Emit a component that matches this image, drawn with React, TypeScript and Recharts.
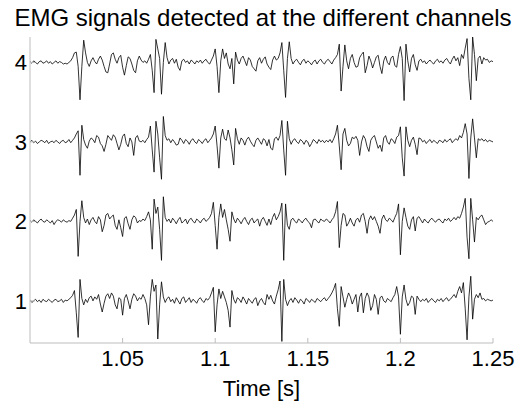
import React from 'react';
import {LineChart, Line, XAxis, YAxis} from 'recharts';

// EMG amplitude per channel, one sample every 1 ms starting at 1.000 s
const START_TIME = 1.0;
const SAMPLE_STEP = 0.001;

const ch4 = [
    0.01, -0.01, 0.02, 0.00, -0.02, 0.01, 0.02, -0.01, 0.00, 0.02,
    -0.01, 0.01, -0.02, 0.00, 0.02, -0.01, 0.01, 0.00, -0.02, -0.01,
    -0.02, 0.00, 0.02, 0.06, 0.12, 0.13, -0.05, -0.47, -0.05, 0.28,
    0.12, 0.00, -0.05, 0.02, 0.06, 0.01, -0.02, 0.04, 0.08, 0.03,
    -0.05, -0.12, -0.13, -0.02, 0.10, 0.12, 0.04, -0.01, 0.06, 0.09,
    -0.06, -0.16, -0.04, 0.07, 0.05, -0.02, -0.10, -0.13, 0.02, 0.08,
    0.03, 0.00, 0.02, -0.01, 0.04, 0.10, -0.10, -0.38, 0.29, 0.17,
    0.05, -0.40, 0.00, 0.25, 0.06, -0.02, 0.03, 0.05, -0.01, 0.04,
    -0.06, -0.10, 0.02, 0.04, 0.00, 0.02, -0.02, 0.03, 0.01, -0.02,
    0.02, 0.00, 0.03, -0.01, 0.02, 0.04, 0.00, -0.02, 0.03, 0.08,
    0.17, -0.05, -0.38, 0.02, 0.17, 0.05, 0.12, -0.02, -0.08, 0.05,
    -0.27, 0.13, 0.03, -0.02, 0.05, 0.08, 0.02, -0.04, 0.06, 0.03,
    -0.05, -0.08, -0.11, 0.02, 0.06, -0.01, 0.04, 0.07, -0.02, -0.06,
    -0.09, 0.03, 0.08, 0.03, 0.05, 0.12, 0.25, -0.10, -0.44, 0.05,
    0.26, 0.05, -0.02, 0.02, 0.04, 0.00, -0.03, 0.02, 0.04, -0.01,
    0.02, 0.00, -0.03, 0.01, 0.03, -0.02, 0.02, 0.04, 0.00, -0.02,
    0.02, 0.04, 0.01, -0.02, 0.03, 0.06, 0.10, 0.23, -0.36, -0.05,
    0.22, 0.02, -0.08, 0.05, 0.10, 0.00, -0.06, -0.05, 0.06, 0.10,
    0.13, -0.13, -0.04, 0.08, 0.02, -0.07, 0.00, 0.07, 0.09, -0.05,
    -0.14, 0.02, 0.08, 0.00, -0.03, 0.06, 0.08, -0.04, -0.06, 0.10,
    0.20, 0.05, -0.48, 0.23, 0.02, -0.12, 0.05, 0.10, -0.03, -0.10,
    0.02, 0.04, 0.00, 0.02, -0.02, 0.01, 0.03, 0.00, -0.02, 0.02,
    0.04, 0.00, 0.02, -0.01, 0.03, 0.05, 0.01, -0.02, 0.04, 0.08,
    0.02, 0.06, -0.04, 0.10, 0.05, 0.18, 0.30, -0.20, -0.47, 0.32,
    0.10, -0.23, 0.05, 0.08, -0.02, 0.06, 0.03, 0.04, 0.00, 0.02, 0.01,
];

const ch3 = [
    0.00, 0.02, -0.01, 0.01, -0.02, 0.00, 0.02, 0.01, -0.01, 0.02,
    -0.02, 0.00, 0.01, -0.01, 0.02, 0.00, -0.02, 0.01, 0.02, -0.01,
    0.00, 0.03, -0.01, 0.02, 0.05, 0.10, 0.14, -0.42, 0.21, 0.03,
    -0.04, -0.08, 0.01, 0.05, 0.03, -0.01, 0.08, 0.06, -0.02, -0.05,
    -0.12, -0.03, 0.08, 0.05, 0.02, 0.09, 0.06, -0.02, -0.10, -0.03,
    0.07, 0.10, -0.02, -0.06, 0.05, 0.00, -0.17, 0.05, 0.08, 0.01,
    0.00, 0.02, -0.01, 0.03, 0.06, 0.20, -0.10, -0.38, 0.26, 0.10,
    -0.20, -0.47, 0.32, 0.08, 0.02, 0.04, -0.01, 0.03, 0.00, -0.04,
    -0.03, 0.05, 0.02, -0.02, 0.03, 0.01, -0.03, 0.02, 0.04, 0.00,
    -0.02, 0.03, 0.01, -0.02, 0.02, 0.04, -0.01, 0.02, 0.05, 0.10,
    0.20, -0.05, -0.33, 0.05, 0.16, 0.04, 0.02, 0.15, 0.05, -0.10,
    -0.29, 0.17, 0.04, -0.03, 0.05, 0.02, -0.04, 0.03, 0.06, 0.01,
    -0.03, -0.06, 0.02, 0.05, 0.01, -0.03, 0.04, 0.02, -0.05, 0.03,
    -0.08, -0.10, 0.04, 0.06, 0.02, 0.08, 0.27, -0.10, -0.42, 0.26,
    0.04, -0.03, 0.02, 0.04, 0.00, -0.02, 0.03, 0.01, -0.03, 0.02,
    0.00, -0.06, -0.02, 0.03, 0.01, -0.02, 0.03, 0.00, 0.02, -0.01,
    0.02, 0.00, 0.03, -0.01, 0.04, 0.10, 0.21, -0.05, -0.35, 0.10,
    0.17, 0.02, -0.05, -0.02, 0.06, 0.04, 0.07, 0.02, -0.17, 0.00,
    0.08, 0.04, -0.06, -0.12, 0.02, 0.06, 0.08, 0.00, -0.08, -0.04,
    -0.12, 0.05, 0.08, 0.00, -0.03, 0.04, 0.02, -0.02, 0.06, 0.08,
    0.19, -0.20, -0.43, 0.19, 0.02, -0.06, 0.02, 0.06, -0.03, -0.16,
    0.05, 0.04, 0.00, 0.02, -0.02, 0.01, 0.03, -0.01, 0.02, 0.00,
    -0.02, 0.02, 0.01, -0.01, 0.03, 0.00, 0.02, 0.04, -0.01, 0.02,
    0.04, 0.02, 0.08, 0.05, 0.12, 0.23, 0.10, -0.46, 0.05, 0.29,
    0.05, -0.20, 0.04, 0.02, 0.04, 0.01, 0.03, 0.00, 0.02, 0.01, 0.00,
];

const ch2 = [
    0.01, -0.01, 0.02, 0.00, -0.02, 0.01, 0.03, 0.00, -0.01, 0.02,
    0.00, -0.02, 0.01, -0.04, 0.00, 0.02, 0.01, -0.01, 0.02, 0.00,
    -0.01, 0.01, 0.00, 0.04, 0.08, 0.15, -0.44, 0.00, 0.26, 0.05,
    -0.02, 0.03, -0.04, 0.02, 0.05, 0.00, -0.03, 0.06, 0.02, -0.13,
    -0.05, 0.08, 0.10, 0.03, 0.06, 0.08, -0.05, -0.10, 0.02, -0.08,
    -0.19, 0.04, 0.06, -0.03, -0.10, 0.02, 0.07, 0.05, -0.02, 0.01,
    0.00, 0.03, 0.01, 0.06, 0.12, 0.02, -0.35, 0.28, 0.10, 0.18,
    -0.10, -0.49, 0.31, 0.05, 0.00, 0.03, -0.02, 0.04, 0.01, -0.03,
    0.02, 0.05, -0.02, 0.00, 0.03, -0.03, 0.02, 0.04, 0.00, -0.02,
    0.03, 0.01, -0.02, 0.02, 0.04, 0.00, 0.02, 0.05, 0.10, 0.24,
    -0.05, -0.35, 0.05, 0.22, 0.05, 0.15, 0.02, -0.10, -0.25, 0.12,
    0.03, -0.02, 0.04, 0.01, -0.03, 0.02, 0.05, 0.00, -0.04, 0.02,
    0.04, -0.02, 0.01, 0.03, -0.06, 0.02, 0.05, 0.00, -0.05, 0.03,
    -0.04, 0.05, 0.10, 0.02, 0.06, 0.12, 0.23, -0.49, 0.22, -0.05,
    -0.10, 0.02, 0.04, 0.00, -0.02, 0.03, 0.01, -0.02, 0.02, 0.04,
    0.00, -0.02, -0.08, 0.02, 0.03, 0.00, -0.02, 0.03, 0.01, 0.00,
    0.03, 0.01, -0.02, 0.02, 0.05, 0.12, 0.25, -0.33, -0.05, 0.10,
    0.08, -0.06, -0.02, 0.04, -0.02, -0.06, 0.02, 0.04, -0.01, 0.08,
    0.10, 0.00, -0.15, 0.02, 0.07, 0.02, 0.06, 0.00, -0.06, -0.15,
    0.03, 0.08, 0.02, 0.00, 0.04, 0.02, -0.01, 0.05, 0.10, 0.22,
    -0.42, 0.00, 0.17, 0.05, -0.06, -0.10, 0.02, 0.06, -0.12, 0.04,
    0.06, 0.02, -0.02, 0.03, 0.00, -0.02, 0.02, 0.04, 0.01, -0.01,
    0.02, 0.03, 0.00, -0.02, 0.03, 0.01, 0.04, 0.00, 0.02, 0.05,
    0.02, 0.06, 0.04, 0.10, 0.18, 0.29, -0.20, -0.47, 0.29, 0.02,
    -0.26, 0.05, 0.02, 0.06, 0.08, 0.02, -0.04, -0.01, 0.00, 0.02, 0.00,
];

const ch1 = [
    0.01, -0.02, 0.00, 0.02, -0.01, 0.01, -0.02, 0.02, 0.00, -0.01,
    0.02, 0.00, -0.02, 0.01, 0.02, -0.01, 0.00, 0.02, -0.02, 0.01,
    0.00, 0.02, 0.04, 0.07, 0.13, -0.15, -0.46, 0.27, 0.03, -0.05,
    0.02, -0.02, 0.04, 0.06, 0.00, 0.05, 0.02, 0.08, -0.04, -0.14,
    -0.03, 0.06, 0.09, 0.03, 0.10, 0.06, -0.05, -0.10, 0.04, 0.02,
    -0.18, 0.03, 0.08, 0.00, -0.10, 0.02, 0.09, 0.06, 0.00, 0.04,
    0.02, 0.08, 0.03, -0.05, -0.30, 0.05, 0.27, 0.12, 0.20, -0.48,
    -0.05, 0.24, 0.05, -0.02, 0.03, 0.05, -0.01, 0.02, -0.03, 0.04,
    0.00, -0.04, 0.03, 0.05, -0.02, 0.01, 0.04, -0.02, 0.02, 0.00,
    -0.03, 0.02, 0.04, 0.00, -0.02, 0.03, 0.01, 0.04, 0.10, 0.17,
    -0.39, -0.05, 0.15, 0.03, 0.12, 0.05, -0.02, -0.12, -0.33, 0.13,
    0.02, -0.03, 0.04, 0.02, -0.02, 0.05, 0.01, -0.04, 0.03, 0.00,
    -0.03, 0.02, 0.04, -0.06, 0.00, 0.03, -0.02, -0.05, 0.08, 0.02,
    0.07, 0.00, -0.04, 0.06, 0.14, 0.25, -0.51, 0.27, 0.02, -0.06,
    0.00, 0.03, -0.02, 0.04, 0.01, -0.03, 0.02, 0.00, -0.04, 0.03,
    0.01, -0.02, 0.02, 0.00, -0.02, 0.03, 0.01, -0.01, 0.02, 0.04,
    0.00, 0.03, 0.06, 0.10, 0.15, 0.22, -0.10, -0.32, 0.18, 0.05,
    -0.08, 0.02, 0.10, 0.05, -0.04, 0.02, 0.08, -0.14, 0.05, 0.10,
    -0.15, 0.03, 0.10, 0.05, -0.12, -0.06, 0.08, 0.02, -0.17, 0.04,
    0.06, 0.00, -0.02, 0.03, 0.01, -0.01, 0.04, 0.08, 0.18, 0.05,
    -0.42, 0.05, 0.20, 0.02, -0.06, -0.02, 0.06, 0.04, -0.17, 0.06,
    0.02, -0.01, 0.02, 0.00, 0.03, -0.02, 0.01, 0.03, 0.00, -0.02,
    0.02, 0.00, 0.03, -0.01, 0.02, 0.04, 0.00, 0.02, 0.05, 0.08,
    0.04, 0.12, 0.18, 0.10, 0.23, -0.10, -0.49, 0.05, 0.31, -0.23,
    0.02, 0.08, 0.04, 0.10, 0.02, 0.03, 0.00, 0.02, 0.01, 0.00, 0.01,
];

const channels = [ch1, ch2, ch3, ch4];
const channelTicks = [1, 2, 3, 4];
const timeTicks = [1.05, 1.1, 1.15, 1.2, 1.25];

// each channel is drawn on top of its own offset (1..4)
const data = ch1.map((_, i) => {
    const row: Record<string, number> = {t: Number((START_TIME + i * SAMPLE_STEP).toFixed(3))};
    channels.forEach((ch, k) => {
        row['c' + (k + 1)] = k + 1 + ch[i];
    });
    return row;
});

const FONT = '"Liberation Sans", Arial, Helvetica, sans-serif';
const AXIS_GRAY = '#bdbdbd';
const TICK_LEN = 5;
const FONT_SIZE = 22;

const BottomTick = (props: any) => {
    const {x, y, payload} = props;
    return (
        <g>
            <line x1={x} y1={y} x2={x} y2={y - TICK_LEN} stroke={AXIS_GRAY}/>
            <text x={x} y={y + 23} textAnchor="middle" fontSize={FONT_SIZE} fontFamily={FONT} fill="#000">
                {String(payload.value)}
            </text>
        </g>
    );
};

const TopTick = (props: any) => {
    const {x, y} = props;
    return <line x1={x} y1={y} x2={x} y2={y + TICK_LEN} stroke={AXIS_GRAY}/>;
};

const LeftTick = (props: any) => {
    const {x, y, payload} = props;
    return (
        <g>
            <line x1={x} y1={y} x2={x + TICK_LEN} y2={y} stroke={AXIS_GRAY}/>
            <text x={x - 3} y={y + 8} textAnchor="end" fontSize={FONT_SIZE} fontFamily={FONT} fill="#000">
                {String(payload.value)}
            </text>
        </g>
    );
};

const RightTick = (props: any) => {
    const {x, y} = props;
    return <line x1={x} y1={y} x2={x - TICK_LEN} y2={y} stroke={AXIS_GRAY}/>;
};

const App = (): JSX.Element => {
    return (
        <div style={{position: 'absolute', left: 0, top: 0, width: 520, height: 404, background: '#fff'}}>
            <div style={{
                position: 'absolute', left: 0, top: 4, width: 526, textAlign: 'center',
                fontFamily: FONT, fontSize: 24, color: '#000', lineHeight: '28px', whiteSpace: 'nowrap',
            }}>
                EMG signals detected at the different channels
            </div>
            <LineChart width={520} height={404} data={data}
                       margin={{top: 37, right: 27, bottom: 0, left: 0}}>
                <XAxis dataKey="t" type="number" domain={[1.0, 1.25]} ticks={timeTicks} interval={0}
                       allowDataOverflow height={61} axisLine={{stroke: AXIS_GRAY}} tickLine={false}
                       tickSize={0} tickMargin={0} tick={<BottomTick/>}
                       label={{value: 'Time [s]', position: 'insideBottom', offset: 8, fontSize: FONT_SIZE,
                           fontFamily: FONT, fill: '#000'}}/>
                <XAxis xAxisId="top" orientation="top" dataKey="t" type="number" domain={[1.0, 1.25]}
                       ticks={timeTicks} interval={0} allowDataOverflow height={0}
                       axisLine={{stroke: AXIS_GRAY}} tickLine={false} tickSize={0} tickMargin={0}
                       tick={<TopTick/>}/>
                <YAxis type="number" domain={[0.47, 4.32]} ticks={channelTicks} interval={0} allowDataOverflow
                       width={30} axisLine={{stroke: AXIS_GRAY}} tickLine={false} tickSize={0} tickMargin={0}
                       tick={<LeftTick/>}/>
                <YAxis yAxisId="right" orientation="right" type="number" domain={[0.47, 4.32]}
                       ticks={channelTicks} interval={0} allowDataOverflow width={0}
                       axisLine={{stroke: AXIS_GRAY}} tickLine={false} tickSize={0} tickMargin={0}
                       tick={<RightTick/>}/>
                {channelTicks.map((c) => (
                    <Line key={c} dataKey={'c' + c} type="linear" stroke="#000" strokeWidth={0.8}
                          dot={false} activeDot={false} isAnimationActive={false}/>
                ))}
            </LineChart>
        </div>
    );
};

export default App;
